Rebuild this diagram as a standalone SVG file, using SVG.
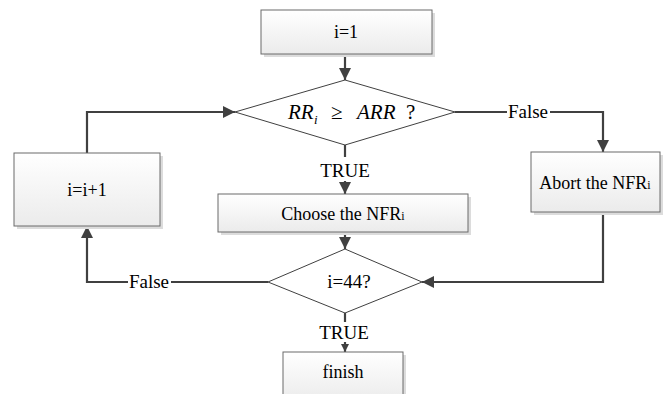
<svg xmlns="http://www.w3.org/2000/svg" width="664" height="394" viewBox="0 0 664 394" font-family="'Liberation Serif', 'Times New Roman', serif">
<defs>
<linearGradient id="g" x1="0" y1="0" x2="0" y2="1"><stop offset="0" stop-color="#ffffff"/><stop offset="1" stop-color="#ebebeb"/></linearGradient>
<marker id="ah" markerWidth="12" markerHeight="12" viewBox="0 0 12 12" refX="12" refY="6" orient="auto" markerUnits="userSpaceOnUse"><path d="M0,0 L12,6 L0,12 z" fill="#404040"/></marker>
<marker id="ahs" markerWidth="8" markerHeight="8" viewBox="0 0 8 8" refX="8" refY="4" orient="auto" markerUnits="userSpaceOnUse"><path d="M0,0 L8,4 L0,8 z" fill="#404040"/></marker>
</defs>
<style>
.box{fill:url(#g);stroke:#6a6a6a;stroke-width:1}
.sh{fill:#dcdcdc}
.dia{fill:#ffffff;stroke:#404040;stroke-width:1}
.t{font-family:'Liberation Serif','Times New Roman',serif;font-size:18px;fill:#000;text-anchor:middle}
.l{font-size:19px}
.c{fill:none;stroke:#404040;stroke-width:2.2}
.lbl{fill:#fff}
</style>
<g id="connectors">
<line class="c" x1="345" y1="54" x2="345" y2="80" marker-end="url(#ah)"/>
<polyline class="c" points="455,112 603,112 603,152" marker-end="url(#ah)"/>
<line class="c" x1="345" y1="145" x2="345" y2="157"/>
<line class="c" x1="345" y1="181" x2="345" y2="194" marker-end="url(#ah)"/>
<line class="c" x1="345" y1="232" x2="345" y2="249" marker-end="url(#ah)"/>
<polyline class="c" points="603,212 603,282 422,282" marker-end="url(#ah)"/>
<polyline class="c" points="268,282 87,282 87,226" marker-end="url(#ah)"/>
<polyline class="c" points="87,153 87,112 235,112" marker-end="url(#ah)"/>
<line class="c" x1="345" y1="313" x2="345" y2="322"/>
<line class="c" x1="345" y1="342" x2="345" y2="352" marker-end="url(#ahs)"/>
<rect class="lbl" x="507" y="102" width="43" height="20"/>
<text class="t l" x="528" y="118">False</text>
<rect class="lbl" x="128" y="272" width="43" height="20"/>
<text class="t l" x="149" y="288">False</text>
<text class="t l" x="345" y="177">TRUE</text>
<text class="t l" x="344" y="339">TRUE</text>
</g>
<g id="n_start">
<rect class="sh" x="264" y="13" width="171" height="44"/>
<rect class="box" x="261" y="10" width="171" height="44"/>
<text class="t" x="346" y="38">i=1</text>
</g>
<g id="n_dec1">
<polygon class="dia" points="345,80 455,112 345,145 235,112"/>
<text class="t" style="font-size:21px;text-anchor:start" y="119"><tspan x="288" font-style="italic">RR</tspan><tspan x="314" y="124" font-style="italic" font-size="13">i</tspan><tspan x="331" y="119">≥</tspan><tspan x="357" font-style="italic">ARR</tspan><tspan x="406">?</tspan></text>
</g>
<g id="n_inc">
<rect class="sh" x="17" y="156" width="146" height="73"/>
<rect class="box" x="14" y="153" width="146" height="73"/>
<text class="t" x="87" y="196">i=i+1</text>
</g>
<g id="n_choose">
<rect class="sh" x="221" y="197" width="250" height="38"/>
<rect class="box" x="218" y="194" width="250" height="38"/>
<text class="t" x="343" y="220">Choose the NFR<tspan font-size="12">i</tspan></text>
</g>
<g id="n_abort">
<rect class="sh" x="534" y="155" width="129" height="60"/>
<rect class="box" x="531" y="152" width="129" height="60"/>
<text class="t" x="595" y="189">Abort the NFR<tspan font-size="12">i</tspan></text>
</g>
<g id="n_dec2">
<polygon class="dia" points="345,249 422,282 345,313 268,282"/>
<text class="t l" x="349" y="288">i=44?</text>
</g>
<g id="n_finish">
<rect class="sh" x="286" y="355" width="120" height="50"/>
<rect class="box" x="283" y="352" width="120" height="50"/>
<text class="t" x="343" y="378">finish</text>
</g>
</svg>
